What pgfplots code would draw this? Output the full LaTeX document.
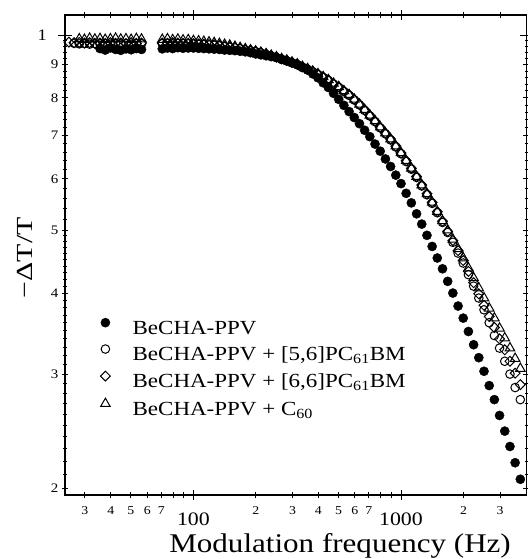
\documentclass[border=0pt]{standalone}
\usepackage{fontspec}
\setmainfont{Liberation Serif}[FakeStretch=1.15]
\newfontfamily\ylfont{Liberation Serif}[FakeStretch=1.3]
\usepackage{pgfplots}
\usepackage{pgfplotstable}
\pgfplotsset{compat=1.18}

% f = modulation frequency (Hz); a = BeCHA-PPV; b = +[5,6]PC61BM; c = +[6,6]PC61BM; d = +C60
\pgfplotstableread{
f a b c d
25.12 nan nan 0.975 nan
26.61 nan 0.971 0.973 nan
28.18 nan 0.969 0.974 0.986
29.85 nan 0.970 0.972 0.984
31.62 nan 0.968 0.973 0.988
33.50 nan 0.970 0.971 0.985
35.48 0.953 0.969 0.972 0.987
37.58 0.948 0.971 0.970 0.984
39.81 0.955 0.968 0.973 0.986
42.17 0.950 0.970 0.971 0.988
44.67 0.947 0.969 0.972 0.985
47.32 0.952 0.970 0.970 0.986
50.12 0.949 0.968 0.973 0.984
53.09 0.953 0.970 0.971 0.987
56.23 0.950 0.969 0.972 0.985
70.79 0.952 0.970 0.972 0.984
74.99 0.955 0.971 0.971 0.986
79.43 0.953 0.969 0.973 0.983
84.14 0.956 0.970 0.972 0.985
89.13 0.954 0.970 0.971 0.982
94.41 0.955 0.969 0.971 0.983
100.0 0.955 0.968 0.970 0.980
105.9 0.954 0.967 0.969 0.979
112.2 0.953 0.966 0.968 0.977
118.9 0.952 0.965 0.967 0.975
125.9 0.951 0.964 0.966 0.973
133.4 0.950 0.962 0.964 0.970
141.3 0.948 0.959 0.961 0.967
149.6 0.947 0.957 0.959 0.964
158.5 0.946 0.955 0.957 0.960
167.9 0.944 0.952 0.954 0.956
177.8 0.942 0.948 0.950 0.952
188.4 0.939 0.945 0.947 0.948
199.5 0.935 0.942 0.944 0.944
211.3 0.932 0.938 0.940 0.940
223.9 0.929 0.933 0.935 0.935
237.1 0.926 0.928 0.930 0.930
251.2 0.923 0.923 0.925 0.925
266.1 0.917 0.917 0.919 0.919
281.8 0.912 0.912 0.914 0.914
298.5 0.906 0.906 0.908 0.908
316.2 0.900 0.900 0.902 0.902
335.0 0.891 0.892 0.894 0.894
354.8 0.883 0.885 0.887 0.887
375.8 0.871 0.877 0.879 0.879
398.1 0.859 0.869 0.871 0.871
421.7 0.844 0.860 0.862 0.862
446.7 0.830 0.851 0.853 0.853
473.2 0.813 0.840 0.842 0.842
501.2 0.796 0.830 0.832 0.832
530.9 0.779 0.818 0.820 0.820
562.3 0.762 0.807 0.809 0.809
595.7 0.746 0.794 0.796 0.796
631.0 0.730 0.780 0.782 0.782
668.3 0.713 0.765 0.767 0.767
707.9 0.697 0.750 0.752 0.752
749.9 0.679 0.735 0.737 0.737
794.3 0.662 0.719 0.721 0.721
841.4 0.644 0.704 0.706 0.706
891.3 0.627 0.689 0.691 0.691
944.1 0.608 0.672 0.674 0.674
1000 0.590 0.656 0.658 0.658
1059 0.570 0.638 0.640 0.640
1122 0.551 0.621 0.623 0.623
1189 0.530 0.603 0.605 0.605
1259 0.511 0.585 0.587 0.587
1334 0.491 0.567 0.569 0.569
1413 0.472 0.550 0.552 0.552
1496 0.453 0.532 0.534 0.534
1585 0.436 0.514 0.516 0.517
1679 0.417 0.496 0.498 0.500
1778 0.400 0.479 0.482 0.484
1884 0.382 0.461 0.465 0.468
1995 0.366 0.445 0.449 0.453
2113 0.349 0.427 0.432 0.437
2239 0.333 0.410 0.415 0.422
2371 0.318 0.393 0.399 0.407
2512 0.303 0.377 0.383 0.393
2661 0.288 0.360 0.368 0.379
2818 0.274 0.344 0.354 0.366
2985 0.259 0.329 0.340 0.353
3162 0.245 0.314 0.327 0.341
3350 0.232 0.300 0.314 0.329
3548 0.219 0.286 0.301 0.317
3758 0.2065 0.274 0.289 0.306
}\data

\begin{document}
\begin{tikzpicture}
\begin{axis}[
  scale only axis, width=461.5bp, height=480bp,
  xmode=log, ymode=log,
  xmin=24.06, xmax=4025, ymin=0.1953, ymax=1.0736,
  axis line style={line width=1.4bp},
  every tick/.style={line width=0.9bp, black},
  tick align=center,
  major tick length=7bp, minor tick length=4bp,
  xtick={30,40,50,60,70,80,90,200,300,400,500,600,700,800,900,2000,3000},
  xticklabels={3,4,5,6,7,,,2,3,4,5,6,7,,,2,3},
  minor xtick={},
  extra x ticks={100,1000},
  extra x tick labels={100,1000},
  extra x tick style={major tick length=11bp,
     xticklabel style={font=\fontsize{19bp}{19bp}\selectfont, yshift=-9bp, text height=13bp, text depth=0bp}},
  xticklabel style={font=\fontsize{12bp}{12bp}\selectfont, anchor=base, yshift=-16bp, inner sep=0bp},
  ytick={0.2,0.3,0.4,0.5,0.6,0.7,0.8,0.9},
  yticklabels={2,3,4,5,6,7,8,9},
  extra y ticks={1},
  extra y tick labels={1},
  extra y tick style={major tick length=14bp,
     yticklabel style={font=\fontsize{16bp}{16bp}\selectfont, xshift=-8bp}},
  minor ytick={0.21,0.22,0.23,0.24,0.25,0.26,0.27,0.28,0.29,0.31,0.32,0.33,0.34,0.35,0.36,0.37,0.38,0.39,0.41,0.42,0.43,0.44,0.45,0.46,0.47,0.48,0.49,0.52,0.54,0.56,0.58,0.62,0.64,0.66,0.68,0.72,0.74,0.76,0.78,0.82,0.84,0.86,0.88,0.92,0.94,0.96,0.98},
  yticklabel style={font=\fontsize{13bp}{13bp}\selectfont, anchor=east, inner sep=0bp, xshift=-3bp},
  /pgf/number format/assume math mode=true,
  xlabel={Modulation frequency (Hz)},
  xlabel style={font=\fontsize{27bp}{27bp}\selectfont, at={([yshift=-57bp]rel axis cs:0.596,0)}, anchor=base, inner sep=0bp, text height=18.5bp, text depth=5.5bp},
  ylabel={−ΔT/T},
  ylabel style={font=\ylfont\fontsize{23bp}{23bp}\selectfont, at={([xshift=-40bp]rel axis cs:0,0.494)}, anchor=center},
  legend cell align=left,
  legend image code/.code={\path (0bp,0bp) (33bp,0bp); \draw[#1] plot coordinates {(6bp,7bp)};},
  legend style={at={(rel axis cs:0.0737,0.369)}, anchor=north west, draw=none, fill=none,
     font=\fontsize{20bp}{24bp}\selectfont, inner sep=0bp, column sep=0bp, row sep=5.6bp,
     nodes={inner sep=0bp, text height=14bp, text depth=5bp}},
]
\addplot[only marks, mark=*, mark size=4.6pt, black] table[x=f,y=a]{\data};
\addlegendentry{BeCHA-PPV}
\addplot[only marks, mark=o, mark size=4.3pt, black, mark options={line width=1bp, fill=none}] table[x=f,y=b]{\data};
\addlegendentry{BeCHA-PPV + [5,6]PC\textsubscript{61}BM}
\addplot[only marks, mark=square, mark size=3.5pt, black, mark options={rotate=45, line width=1bp, fill=none}] table[x=f,y=c]{\data};
\addlegendentry{BeCHA-PPV + [6,6]PC\textsubscript{61}BM}
\addplot[only marks, mark=triangle, mark size=5.5pt, black, mark options={line width=1bp, fill=none}] table[x=f,y=d]{\data};
\addlegendentry{BeCHA-PPV + C\textsubscript{60}}
\coordinate (LL) at (rel axis cs:0,0);
\coordinate (UR) at (rel axis cs:1,1);
\end{axis}
\pgfresetboundingbox
\path[use as bounding box] ([shift={(-65bp,-64bp)}]LL) rectangle ([shift={(1.5bp,15bp)}]UR);
\end{tikzpicture}
\end{document}
